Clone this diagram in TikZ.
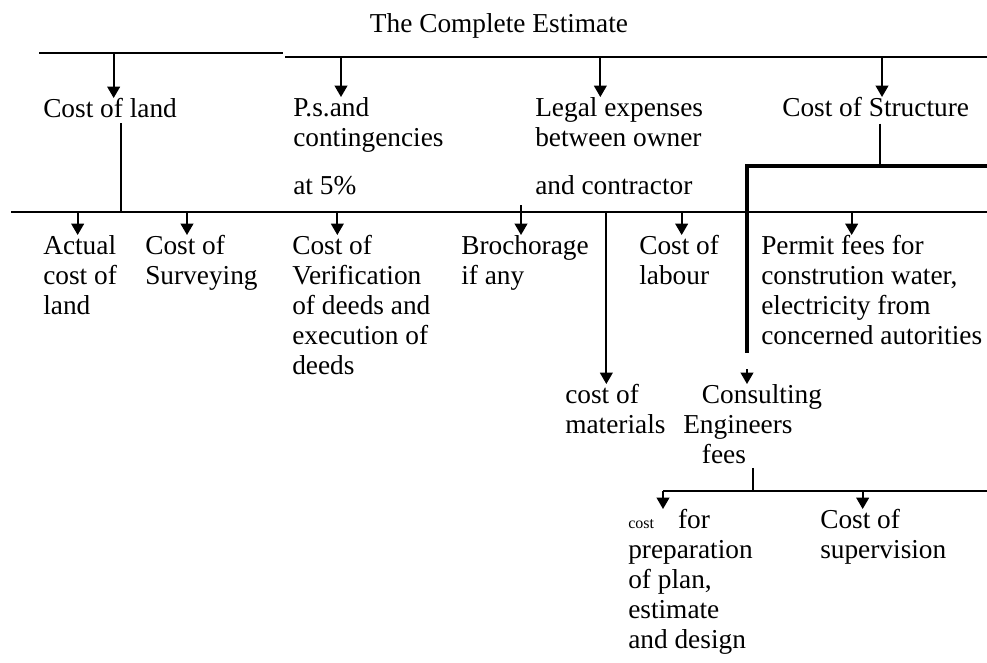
\documentclass[tikz,border=0pt]{standalone}
\usepackage{fontspec}
\setmainfont{Liberation Serif}
\usepackage{tikz}
\usetikzlibrary{arrows.meta, positioning}

\begin{document}
\begin{tikzpicture}[x=0.75pt, y=-0.75pt,
    item/.style={anchor=north west, inner sep=0pt, align=left, font=\fontsize{20.5}{22.5}\selectfont},
    bus/.style={line width=2.2pt},
    thinbus/.style={line width=1.3pt},
    heavybus/.style={line width=3.6pt},
    drop/.style={line width=1.3pt},
    downarrow/.style={line width=1.3pt, -{Triangle[length=8.5pt, width=9.5pt]}}
]
    \useasboundingbox (0,0) rectangle (987,662);

    \node[item, anchor=base, name=title] at(499,32) {The Complete Estimate};

    \coordinate (topL) at (39,53);
    \coordinate (topLend) at (283,53);
    \coordinate (topR) at (285,57);
    \coordinate (topRend) at (987,57);
    \coordinate (main) at (11,212);
    \coordinate (mainend) at (987,212);
    \coordinate (brR) at (987,166);
    \coordinate (brC) at (747,166);
    \coordinate (brE) at (747,353);
    \coordinate (cfL) at (663,491);
    \coordinate (cfR) at (987,491);

    \node[item, name=land] at(43,98) {Cost of land};
    \node[item, name=ps] at(293,97) {P.s.and\\contingencies\\[14pt]at 5\%};
    \node[item, name=legal] at(535,97) {Legal expenses\\between owner\\[14pt]and contractor};
    \node[item, name=struct] at(782,97) {Cost of Structure};

    \node[item, name=actual] at(43,235) {Actual\\cost of\\land};
    \node[item, name=survey] at(145,235) {Cost of\\Surveying};
    \node[item, name=verif] at(292,235) {Cost of\\Verification\\of deeds and\\execution of\\deeds};
    \node[item, name=broch] at(461,235) {Brochorage\\if any};
    \node[item, name=labour] at(639,235) {Cost of\\labour};
    \node[item, name=permit] at(761,235) {Permit fees for\\constrution water,\\electricity from\\concerned autorities};

    \node[item, name=materials] at(565,384) {cost of\\materials};
    \node[item, name=consult] at(683,384) {\hspace*{14pt}Consulting\\Engineers\\\hspace*{14pt}fees};

    \node[item, name=prep] at(628,509) {{\fontsize{12}{14}\selectfont cost}\hspace{18pt}for\\preparation\\of plan,\\estimate\\and design};
    \node[item, name=super] at(820,509) {Cost of\\supervision};

    \draw[thinbus] (topL) -- (topLend);
    \draw[bus] (topR) -- (topRend);
    \draw[bus] (main) -- (mainend);
    \draw[heavybus] (brR) -- (brC) -- (brE);
    \draw[bus] (cfR) -- (cfL);

    \draw[downarrow] ([xshift=53pt]land.north west |- topL) -- ([xshift=53pt]land.north west);
    \draw[downarrow] ([xshift=36pt]ps.north west |- topR) -- ([xshift=36pt]ps.north west);
    \draw[downarrow] ([xshift=49pt]legal.north west |- topR) -- ([xshift=49pt]legal.north west);
    \draw[downarrow] ([xshift=75pt]struct.north west |- topR) -- ([xshift=75pt]struct.north west);

    \draw[downarrow] ([xshift=26pt]actual.north west |- main) -- ([xshift=26pt]actual.north west);
    \draw[downarrow] ([xshift=31.5pt]survey.north west |- main) -- ([xshift=31.5pt]survey.north west);
    \draw[downarrow] ([xshift=34pt]verif.north west |- main) -- ([xshift=34pt]verif.north west);
    \draw[downarrow] ([xshift=45pt, yshift=5pt]broch.north west |- main) -- ([xshift=45pt]broch.north west);
    \draw[downarrow] ([xshift=32pt]labour.north west |- main) -- ([xshift=32pt]labour.north west);
    \draw[downarrow] ([xshift=68pt]permit.north west |- main) -- ([xshift=68pt]permit.north west);
    \draw[downarrow] ([xshift=31pt]materials.north west |- main) -- ([xshift=31pt]materials.north west);

    \draw[downarrow, shorten <=12pt] (brE) -- (brE |- consult.north);
    \draw[downarrow] (cfL) -- (cfL |- prep.north);
    \draw[downarrow] ([xshift=32pt]super.north west |- cfL) -- ([xshift=32pt]super.north west);

    \draw[bus] ([xshift=58.5pt, yshift=-4pt]land.south west) -- ([xshift=58.5pt]land.south west |- main);
    \draw[drop] ([xshift=73.5pt, yshift=-5pt]struct.south west) -- ([xshift=73.5pt]struct.south west |- brC);
    \draw[drop] ([xshift=52.5pt, yshift=-3pt]consult.south west) -- ([xshift=52.5pt]consult.south west |- cfL);
\end{tikzpicture}
\end{document}
